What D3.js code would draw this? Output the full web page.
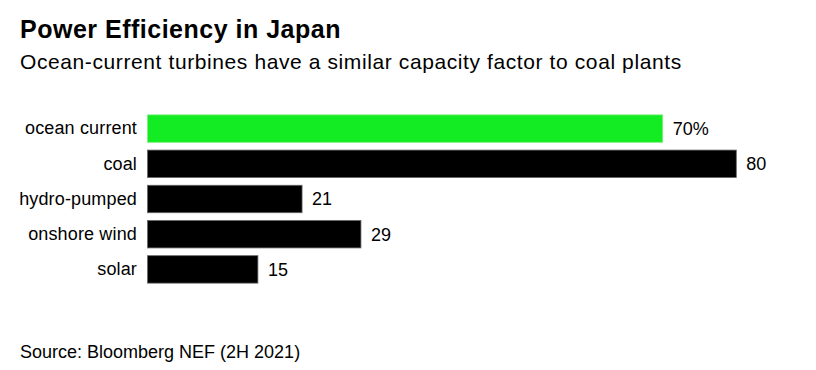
<!DOCTYPE html>
<html><head><meta charset="utf-8">
<script src="https://cdn.jsdelivr.net/npm/d3@7"></script>
<style>body{margin:0;background:#fff;} text{font-family:"Liberation Sans",Arial,sans-serif;}</style>
</head><body>
<svg id="chart" width="816" height="370"></svg>
<script>
const categories = ["ocean current","coal","hydro-pumped","onshore wind","solar"];
const values = [70,80,21,29,15];
const valueLabels = ["70%","80","21","29","15"];
const highlight = ["ocean current"];

const svg = d3.select("#chart");
svg.append("rect").attr("width",816).attr("height",370).attr("fill","#fff");

svg.append("text").attr("x",20).attr("y",37.5).attr("font-size",25).attr("font-weight","bold")
  .attr("letter-spacing",0.5).attr("fill","#000").text("Power Efficiency in Japan");
svg.append("text").attr("x",20).attr("y",68.5).attr("font-size",21).attr("letter-spacing",0.6)
  .attr("fill","#000").text("Ocean-current turbines have a similar capacity factor to coal plants");
svg.append("text").attr("x",20).attr("y",358.3).attr("font-size",18).attr("fill","#000").text("Source: Bloomberg NEF (2H 2021)");

const x = d3.scaleLinear().domain([0,80]).range([147.5,736.3]);
const y = d3.scaleBand().domain(categories).range([111,287]).paddingInner(0.22).paddingOuter(0.11);

const g = svg.append("g");
g.selectAll("rect.bar").data(categories).join("rect").attr("class","bar")
  .attr("x",x(0)).attr("y",d=>y(d))
  .attr("width",(d,i)=>x(values[i])-x(0)).attr("height",y.bandwidth())
  .attr("fill",d=>highlight.includes(d)?"#13ec22":"#000")
  .attr("stroke",d=>highlight.includes(d)?"#7ff07f":"#666").attr("stroke-width",0.8);

const yAxis = d3.axisLeft(y).tickSize(0).tickPadding(10.5);
const ax = svg.append("g").attr("transform",`translate(${x(0)},0)`).call(yAxis);
ax.select(".domain").remove();
ax.selectAll("text").attr("font-size",18).attr("letter-spacing",0.15).attr("fill","#000")
  .style("font-family","'Liberation Sans',Arial,sans-serif");

g.selectAll("text.val").data(categories).join("text").attr("class","val")
  .attr("x",(d,i)=>x(values[i])+10).attr("y",d=>y(d)+y.bandwidth()/2).attr("dy","0.35em")
  .attr("font-size",18).attr("fill","#000").text((d,i)=>valueLabels[i]);
</script>
</body></html>
